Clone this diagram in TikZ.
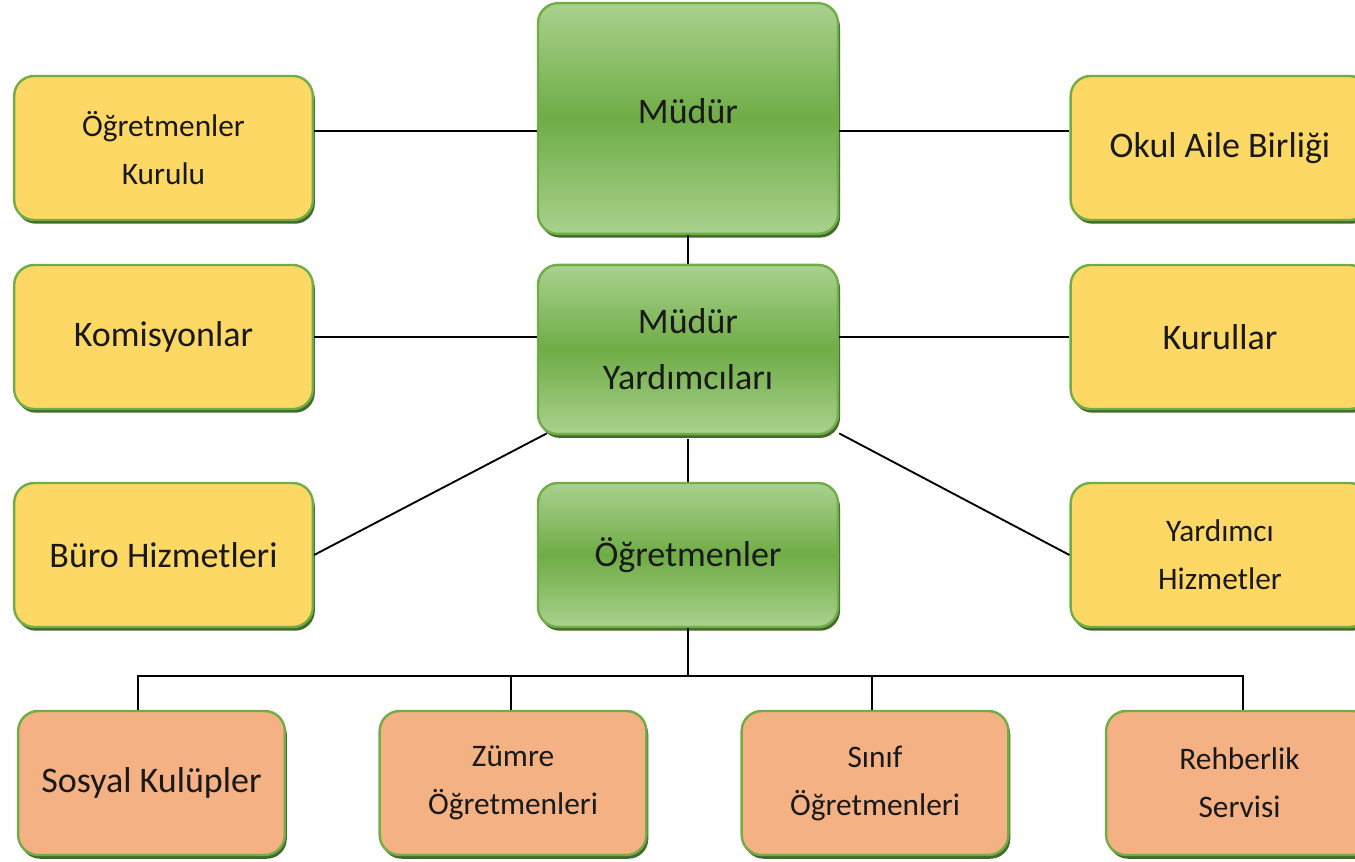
\documentclass[tikz,border=0pt]{standalone}
\usepackage{fontspec}
\setmainfont{Carlito}
\usepackage{xcolor}
\usetikzlibrary{shadows}
\usetikzlibrary{calc}
\usetikzlibrary{positioning, fit, arrows.meta}

\definecolor{gLight}{HTML}{A9D18E}
\definecolor{gMid}{HTML}{6FAC46}
\definecolor{gBorder}{HTML}{70AD47}
\definecolor{gShadow}{HTML}{436A2A}
\definecolor{yFill}{HTML}{FED865}
\definecolor{oFill}{HTML}{F4B183}

\begin{document}
\begin{tikzpicture}[x=0.75pt, y=-0.75pt, line width=1.4pt,
    box/.style = {draw=gBorder, line width=1.8pt, rounded corners=15pt, align=center,
        text=black!90, drop shadow={shadow xshift=1.5pt, shadow yshift=-2.8pt, fill=gShadow, opacity=1}},
    big/.style = {font=\fontsize{27}{42}\selectfont},
    small/.style = {font=\fontsize{23.5}{36}\selectfont},
    head/.style = {box, big, top color=gLight, bottom color=gLight, middle color=gMid, minimum width=225pt},
    side/.style = {box, fill=yFill, minimum width=224pt, minimum height=108pt},
    unit/.style = {box, fill=oFill, minimum width=200pt, minimum height=108pt}]
                \useasboundingbox (0,0) rectangle (1355,861);
                \clip (0,0) rectangle (1355,861);

                % Nodes
                \node[head, minimum height=173pt] (Mudur) at (688,118.5) {\raisebox{12pt}{M\"ud\"ur}};
                \node[head, minimum height=127pt] (MY) at (688,349.5) {M\"ud\"ur\\Yard\i mc\i lar\i};
                \node[head, minimum height=108pt] (Ogr) at (688,555) {\"O\u{g}retmenler};

                \node[side, small] (OK) at (163.5,148) {\"O\u{g}retmenler\\Kurulu};
                \node[side, big] (Kom) at (163.5,337) {Komisyonlar};
                \node[side, big] (Buro) at (163.5,555) {B\"uro Hizmetleri};

                \node[side, big] (OAB) at (1220,148) {Okul Aile Birli\u{g}i};
                \node[side, big] (Kur) at (1220,337) {Kurullar};
                \node[side, small] (YH) at (1220,555) {Yard\i mc\i\\Hizmetler};

                \node[unit, big] (SK) at (151.5,783) {Sosyal Kul\"upler};
                \node[unit, small] (ZO) at (513,783) {Z\"umre\\\"O\u{g}retmenleri};
                \node[unit, small] (SO) at (875,783) {S\i n\i f\\\"O\u{g}retmenleri};
                \node[unit, small] (RS) at (1239.5,783) {Rehberlik\\Servisi};

                % Lines
                \draw ([yshift=12.75pt]OK.east) -- ([yshift=12.75pt]OK.east -| Mudur.west);
                \draw ([yshift=12.75pt]OAB.west) -- ([yshift=12.75pt]OAB.west -| Mudur.east);
                \draw (Mudur.south) -- (MY.north);
                \draw (Kom.east) -- (Kom.east -| MY.west);
                \draw (Kur.west) -- (Kur.west -| MY.east);
                \draw ([xshift=7.5pt, yshift=1.5pt]MY.south west) -- (Buro.east);
                \draw ([yshift=1.5pt]MY.south east) -- (YH.west);
                \draw ([yshift=-3pt]MY.south) -- (Ogr.north);

                \draw (Ogr.south) -- ++(0,48) coordinate (bus);
                \foreach \n/\dx in {SK/-10pt, ZO/-1.5pt, SO/-2.25pt, RS/2.6pt}
                    \draw ([xshift=\dx]\n.north) |- (bus);
            \end{tikzpicture}
\end{document}
